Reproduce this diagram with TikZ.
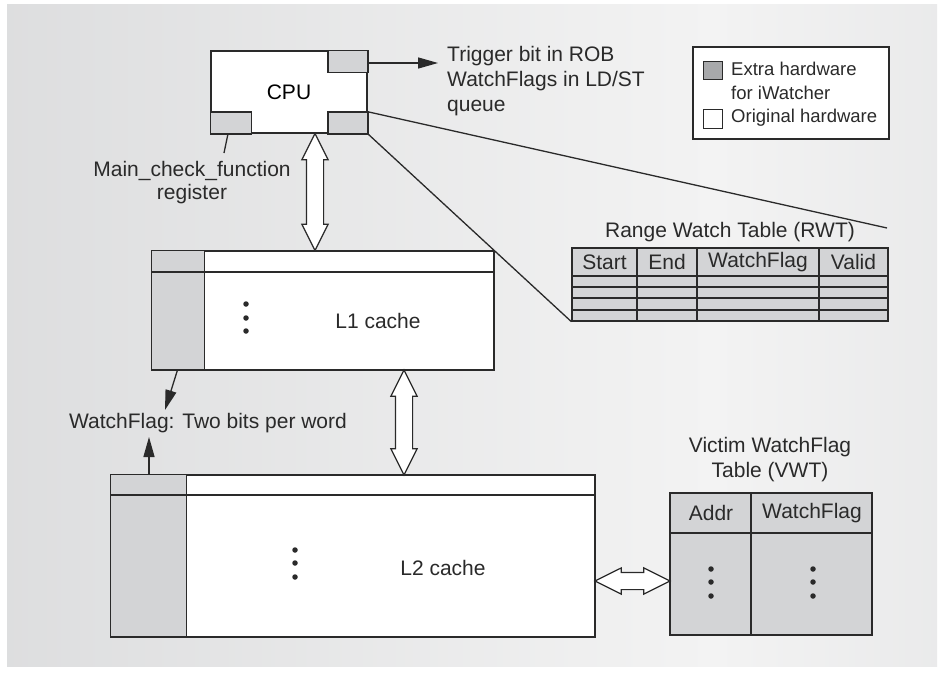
\documentclass[tikz,border=0pt]{standalone}
\usepackage{fontspec}
\setmainfont{Liberation Sans}
\usetikzlibrary{shapes.arrows,arrows.meta}

\definecolor{ink}{HTML}{2A2A2A}
\definecolor{hwgray}{HTML}{D3D4D6}
\definecolor{keygray}{HTML}{A8A9AB}
\definecolor{bgdark}{HTML}{CFD0D2}
\definecolor{bglight}{HTML}{F3F3F3}
\definecolor{bgright}{HTML}{D7D8DA}
\pgfdeclarehorizontalshading{panel}{100bp}{color(0bp)=(bgdark); color(63bp)=(bglight); color(100bp)=(bgright)}

\begin{document}
\begin{tikzpicture}[x=1pt,y=-1pt,font=\fontsize{21}{25}\selectfont]
        \tikzstyle{box}=[draw=ink,line width=1.5pt,fill=white,inner sep=0]
        \tikzstyle{extra}=[draw=ink,line width=1.5pt,fill=hwgray]
        \tikzstyle{grid}=[draw=ink,line width=1.3pt]
        \tikzstyle{lbl}=[inner sep=0,text=ink]
        \tikzstyle{dbl}=[double arrow,draw=ink,line width=1.2pt,fill=white,inner xsep=0,inner ysep=8pt,double arrow head extend=4.5pt,double arrow tip angle=53]
        \tikzstyle{dot}=[fill=ink,circle,inner sep=0,minimum size=5.5]
        \tikzstyle{tip}=[ink,line width=1.3pt,-{Triangle[length=20pt,width=11pt]}]

        \useasboundingbox (0,0) rectangle (945,672);
        \fill[white] (0,0) rectangle (945,672);
        \shade[shading=panel] (7,4) rectangle (937,666);

        % cpu with its three extra registers
            \node[box,minimum width=156,minimum height=82] (cpu) at (289,92) {CPU};
            \filldraw[extra] (cpu.north east) rectangle ++(-40,22);
            \filldraw[extra] (cpu.south east) rectangle ++(-40,-22);
            \filldraw[extra] (cpu.south west) rectangle ++(41,-22);

            \node[lbl,anchor=west,align=left] (trig) at (447,81) {Trigger bit in ROB\\WatchFlags in LD/ST\\queue};
            \coordinate (trigtip) at (438,63);
            \draw[tip] (cpu.north east |- trigtip) -- (trigtip);

            \node[lbl,align=center,font=\fontsize{21}{23}\selectfont] (mcf) at (192,183) {Main\_check\_function\\register};
            \coordinate (mcftip) at (224,153);
            \draw[grid] (mcftip |- cpu.south) ++(4,0) -- (mcftip);

        % legend
            \node[box,line width=1.3pt,minimum width=196,minimum height=92] (key) at (791,93) {};
            \filldraw[draw=ink,fill=keygray,line width=1pt] (703,61) rectangle (722,79);
            \filldraw[draw=ink,fill=white,line width=1pt] (703,109) rectangle (722,128);
            \begin{scope}[font=\fontsize{18.5}{22}\selectfont]
            \node[lbl,anchor=west] (k1) at (731,69) {Extra hardware};
            \node[lbl,anchor=west] (k2) at (731,93) {for iWatcher};
            \node[lbl,anchor=west] (k3) at (731,118) {Original hardware};
            \end{scope}

        % range watch table
            \node[box,fill=hwgray,line width=1.3pt,minimum width=316,minimum height=73] (rwt) at (730,284.5) {};
            \node[lbl] (rwttitle) at (730,232) {Range Watch Table (RWT)};
            \foreach \y in {276,287,298,310}
                \draw[grid] (rwt.west |- 0,\y) -- (rwt.east |- 0,\y);
            \foreach \x in {637,697,819}
                \draw[grid] (\x,0 |- rwt.north) -- (\x,0 |- rwt.south);
            \node[lbl] at (604.5,262) {Start};
            \node[lbl] at (667,262) {End};
            \node[lbl] at (758,262) {WatchFlag};
            \node[lbl] at (853.5,262) {Valid};

            \coordinate (rwtcorner) at (887,228);
            \draw[grid] (cpu.south east) ++(0,-22) -- (rwtcorner);
            \draw[grid] (cpu.south east) -- (rwt.south west);

        % L1 cache
            \node[box,minimum width=342,minimum height=119] (l1) at (323,310.5) {};
            \filldraw[extra] (l1.north west) rectangle ++(53,119);
            \draw[extra] (l1.west |- 0,272) -- (l1.east |- 0,272);
            \node[lbl] at (378,321) {L1 cache};
            \foreach \y in {304,318,331}
                \node[dot] at (246,\y) {};

        % L2 cache
            \node[box,minimum width=484,minimum height=162] (l2) at (353,556) {};
            \filldraw[extra] (l2.north west) rectangle ++(76,162);
            \draw[extra] (l2.west |- 0,495) -- (l2.east |- 0,495);
            \node[lbl] at (443,568) {L2 cache};
            \foreach \y in {550,563,577}
                \node[dot] at (295,\y) {};

        % victim watchflag table
            \node[box,fill=hwgray,minimum width=202,minimum height=142] (vwt) at (771,564) {};
            \draw[extra] (vwt.west |- 0,533) -- (vwt.east |- 0,533);
            \draw[extra] (751,0 |- vwt.north) -- (751,0 |- vwt.south);
            \node[lbl] at (711,513) {Addr};
            \node[lbl] at (812,513) {WatchFlag};
            \foreach \y in {569,582,596} {
                \node[dot] at (711,\y) {};
                \node[dot] at (813,\y) {};
            }
            \node[lbl,align=center] (vwttitle) at (770,460) {Victim WatchFlag\\Table (VWT)};

        % watchflag bits
            \node[lbl] (wf) at (208,423) {WatchFlag: Two bits per word};
            \coordinate (wfin) at (165,410);
            \coordinate (wfout) at (149,437);
            \draw[tip] (l1.south west) ++(26,0) -- (wfin);
            \draw[tip] (l2.north west -| wfout) -- (wfout);

        % data paths
            \path (cpu.south -| 315,0) -- (l1.north -| 315,0) node[midway,dbl,minimum height=117,rotate=90] {};
            \path (l1.south -| 404,0) -- (l2.north -| 404,0) node[midway,dbl,minimum height=105,rotate=90] {};
            \path (l2.east |- 0,581) -- (vwt.west |- 0,581) node[midway,dbl,minimum height=75] {};
\end{tikzpicture}
\end{document}
